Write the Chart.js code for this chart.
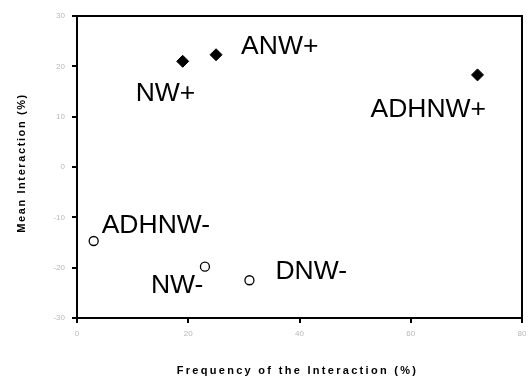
<!DOCTYPE html>
<html>
<head>
<meta charset="utf-8">
<script src="https://cdn.jsdelivr.net/npm/chart.js@4/dist/chart.umd.min.js"></script>
<style>
html,body{margin:0;padding:0;background:#fff;}
#wrap{width:529px;height:379px;}
</style>
</head>
<body>
<div id="wrap"><canvas id="c" width="529" height="379"></canvas></div>
<script>
// Data
const positiveLabels = ["NW+", "ANW+", "ADHNW+"];
const positiveX = [19, 25, 72];
const positiveY = [21, 22.3, 18.3];

const negativeLabels = ["ADHNW-", "NW-", "DNW-"];
const negativeX = [3, 23, 31];
const negativeY = [-14.7, -19.8, -22.5];

const xTicks = [0, 20, 40, 60, 80];
const yTicks = [-30, -20, -10, 0, 10, 20, 30];

const xTitle = "Frequency of the Interaction (%)";
const yTitle = "Mean Interaction (%)";

// label placement (pixel offsets from the marker: left edge, vertical middle)
const positiveOffsets = [[-47, 32], [25, -8], [-107, 35]];
const negativeOffsets = [[8, -15], [-54, 19], [26, -9]];

const pointLabels = {
  id: 'pointLabels',
  afterDatasetsDraw(chart) {
    const ctx = chart.ctx;
    const offs = [positiveOffsets, negativeOffsets];
    const labs = [positiveLabels, negativeLabels];
    ctx.save();
    ctx.font = '26.5px "Liberation Sans", Arial, sans-serif';
    ctx.fillStyle = '#000';
    ctx.textAlign = 'left';
    ctx.textBaseline = 'middle';
    chart.data.datasets.forEach((ds, di) => {
      const meta = chart.getDatasetMeta(di);
      meta.data.forEach((el, i) => {
        const o = offs[di][i];
        ctx.fillText(labs[di][i], el.x + o[0], el.y + o[1]);
      });
    });
    ctx.restore();
  }
};

const frameBox = {
  id: 'frameBox',
  beforeDatasetsDraw(chart) {
    const a = chart.chartArea, ctx = chart.ctx;
    ctx.save();
    ctx.strokeStyle = '#000';
    ctx.lineWidth = 2;
    ctx.strokeRect(a.left, a.top, a.right - a.left, a.bottom - a.top);
    ctx.restore();
  }
};

const axisTitles = {
  id: 'axisTitles',
  afterDraw(chart) {
    const a = chart.chartArea, ctx = chart.ctx;
    ctx.save();
    ctx.font = 'bold 11px "Liberation Sans", Arial, sans-serif';
    ctx.fillStyle = '#000';
    ctx.textAlign = 'center';
    ctx.textBaseline = 'middle';
    if ('letterSpacing' in ctx) ctx.letterSpacing = '2.3px';
    ctx.fillText(xTitle, (a.left + a.right) / 2 - 2, 371);
    ctx.translate(22, (a.top + a.bottom) / 2 - 4);
    ctx.rotate(-Math.PI / 2);
    if ('letterSpacing' in ctx) ctx.letterSpacing = '1.6px';
    ctx.fillText(yTitle, 0, 0);
    ctx.restore();
  }
};

const noPad = () => ({ left: 0, top: 0, right: 0, bottom: 0 });

new Chart(document.getElementById('c'), {
  type: 'scatter',
  data: {
    datasets: [
      {
        data: positiveX.map((x, i) => ({x: x, y: positiveY[i]})),
        pointStyle: 'rectRot',
        pointRadius: 6,
        backgroundColor: '#000',
        borderColor: '#000',
        borderWidth: 1
      },
      {
        data: negativeX.map((x, i) => ({x: x, y: negativeY[i]})),
        pointStyle: 'circle',
        pointRadius: 4.5,
        backgroundColor: '#fff',
        borderColor: '#000',
        borderWidth: 1.3
      }
    ]
  },
  options: {
    responsive: false,
    animation: false,
    events: [],
    layout: { padding: { top: 16, right: 4, left: 0, bottom: 0 } },
    plugins: { legend: { display: false }, tooltip: { enabled: false } },
    scales: {
      x: {
        type: 'linear',
        min: 0, max: 80,
        afterBuildTicks(scale) { scale.ticks = xTicks.map(v => ({value: v})); },
        afterFit(scale) { scale.height = 61; scale.paddingLeft = 0; scale.paddingRight = 0; scale.getPadding = noPad; },
        grid: { display: true, drawOnChartArea: false, drawTicks: true, tickLength: 5, color: '#000', lineWidth: 2 },
        border: { display: true, color: '#000', width: 2 },
        ticks: { color: '#b8b8b8', font: { size: 8, family: 'Arial, "Liberation Sans", sans-serif' }, padding: 6, maxRotation: 0 },
        title: { display: false }
      },
      y: {
        type: 'linear',
        min: -30, max: 30,
        afterBuildTicks(scale) { scale.ticks = yTicks.map(v => ({value: v})); },
        afterFit(scale) { scale.width = 77; scale.paddingTop = 0; scale.paddingBottom = 0; scale.getPadding = noPad; },
        grid: { display: true, drawOnChartArea: false, drawTicks: true, tickLength: 5, color: '#000', lineWidth: 2 },
        border: { display: true, color: '#000', width: 2 },
        ticks: { color: '#b8b8b8', font: { size: 8, family: 'Arial, "Liberation Sans", sans-serif' }, padding: 7 },
        title: { display: false }
      }
    }
  },
  plugins: [frameBox, pointLabels, axisTitles]
});
</script>
</body>
</html>
